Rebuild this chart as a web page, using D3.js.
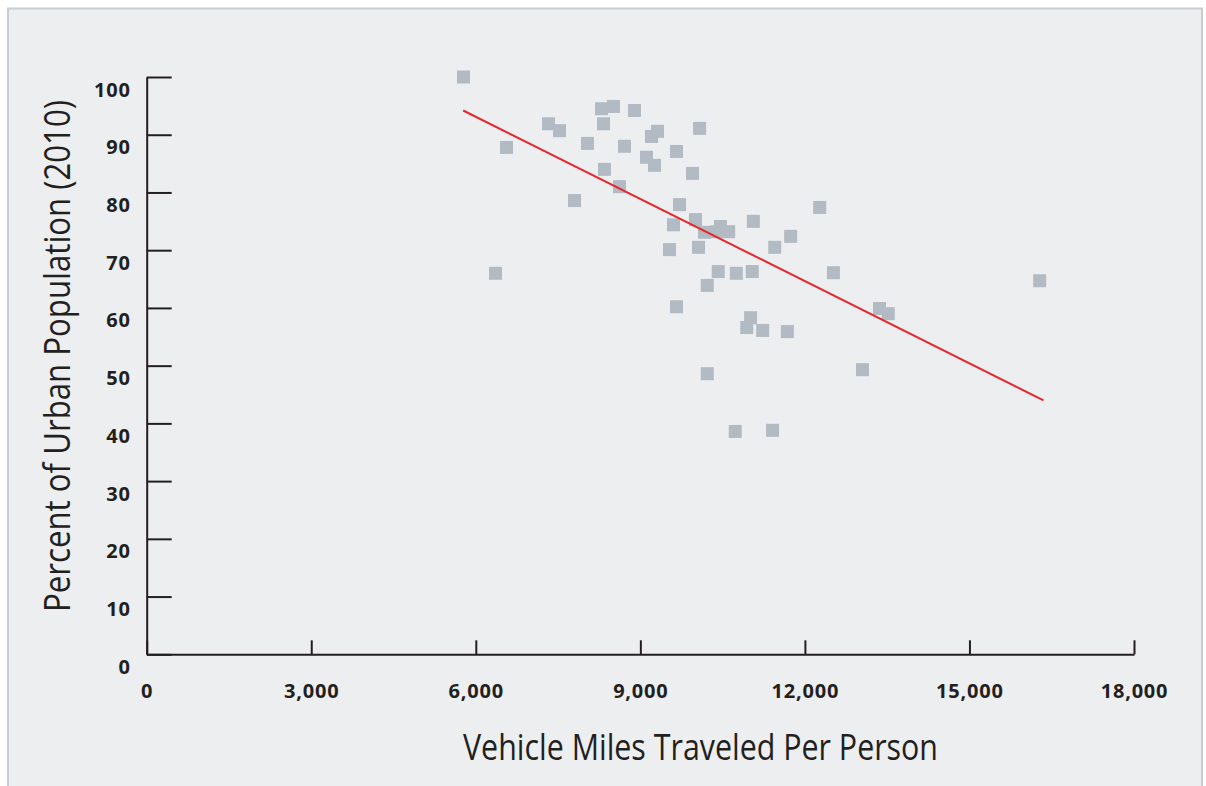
<!DOCTYPE html>
<html>
<head>
<meta charset="utf-8">
<script src="https://cdn.jsdelivr.net/npm/d3@7"></script>
<style>
  html, body { margin: 0; padding: 0; background: #ffffff; }
  svg { display: block; }
</style>
</head>
<body>
<svg id="chart" width="1206" height="786"></svg>
<script>
// Vehicle miles traveled per person (x) vs percent urban population 2010 (y)
const vmt = [5776, 6560, 6359, 7325, 7526, 8036, 7800, 8292, 8510, 8328,
             8893, 8711, 8346, 8620, 9203, 9313, 9659, 9112, 9258, 10080,
             9951, 9714, 9604, 10005, 9531, 10060, 10170, 10460, 10610, 11060,
             11450, 11740, 12270, 10420, 10750, 11040, 10220, 12520, 9659, 11010,
             10940, 11230, 11680, 13360, 13520, 13050, 10220, 10730, 11410, 16280,
             10390];
const urbanPct = [100, 87.8, 66.0, 91.9, 90.7, 88.5, 78.6, 94.5, 94.9, 91.9,
                  94.2, 88.0, 84.0, 81.0, 89.7, 90.6, 87.1, 86.1, 84.7, 91.1,
                  83.3, 77.9, 74.4, 75.3, 70.1, 70.5, 73.1, 74.1, 73.2, 75.0,
                  70.5, 72.4, 77.4, 66.3, 66.0, 66.3, 63.9, 66.1, 60.2, 58.3,
                  56.6, 56.1, 55.9, 59.9, 59.0, 49.3, 48.6, 38.6, 38.8, 64.7,
                  73.2];
// Trend line end points
const trendX = [5770, 16350];
const trendY = [94.2, 44.0];

const xTicks = [0, 3000, 6000, 9000, 12000, 15000, 18000];
const yTicks = [0, 10, 20, 30, 40, 50, 60, 70, 80, 90, 100];
const xTitle = "Vehicle Miles Traveled Per Person";
const yTitle = "Percent of Urban Population (2010)";

const svg = d3.select("#chart");
const ink = "#231f20";

// panel background
svg.append("rect")
  .attr("x", 8).attr("y", 8.5)
  .attr("width", 1194).attr("height", 800)
  .attr("fill", "#edeef0")
  .attr("stroke", "#c8ccd3")
  .attr("stroke-width", 2);

const x = d3.scaleLinear().domain([0, 18000]).range([146.7, 1134]);
const y = d3.scaleLinear().domain([0, 100]).range([654.3, 77]);

// points
const data = vmt.map((v, i) => ({x: v, y: urbanPct[i]}));
const sq = 13;
svg.append("g").selectAll("rect")
  .data(data)
  .join("rect")
  .attr("x", d => x(d.x) - sq / 2)
  .attr("y", d => y(d.y) - sq / 2)
  .attr("width", sq).attr("height", sq)
  .attr("fill", "#b2bac3");

// trend line
const line = d3.line().x(d => x(d[0])).y(d => y(d[1]));
svg.append("path")
  .attr("d", line(trendX.map((v, i) => [v, trendY[i]])))
  .attr("fill", "none")
  .attr("stroke", "#e8262b")
  .attr("stroke-width", 2);

// x axis
const gx = svg.append("g")
  .attr("transform", `translate(0,${y(0)})`)
  .call(d3.axisBottom(x).tickValues(xTicks).tickSizeInner(-14).tickSizeOuter(0)
        .tickFormat(d3.format(",")));
// y axis
const gy = svg.append("g")
  .attr("transform", `translate(${x(0)},0)`)
  .call(d3.axisLeft(y).tickValues(yTicks).tickSizeInner(-25).tickSizeOuter(0)
        .tickFormat(d3.format("d")));

[gx, gy].forEach(g => {
  g.select(".domain").attr("stroke", ink).attr("stroke-width", 2);
  g.selectAll(".tick line").attr("stroke", ink).attr("stroke-width", 2);
  g.selectAll(".tick text")
    .attr("fill", ink)
    .style("font-family", "'Open Sans', 'DejaVu Sans', sans-serif")
    .style("font-weight", 700)
    .style("font-size", "20px")
    .style("letter-spacing", "0.8px");
});
gx.selectAll(".tick text").attr("y", 44).attr("dy", null);
gy.selectAll(".tick text").attr("x", -16).attr("y", 19).attr("dy", null);

// titles
svg.append("text")
  .attr("x", 700.5).attr("y", 760)
  .attr("text-anchor", "middle")
  .attr("textLength", 475).attr("lengthAdjust", "spacingAndGlyphs")
  .attr("fill", ink)
  .style("font-family", "'Open Sans', sans-serif")
  .style("font-size", "36px")
  .text(xTitle);

svg.append("text")
  .attr("transform", "translate(70,356) rotate(-90)")
  .attr("text-anchor", "middle")
  .attr("textLength", 512).attr("lengthAdjust", "spacingAndGlyphs")
  .attr("fill", ink)
  .style("font-family", "'Open Sans', sans-serif")
  .style("font-size", "36px")
  .text(yTitle);
</script>
</body>
</html>
